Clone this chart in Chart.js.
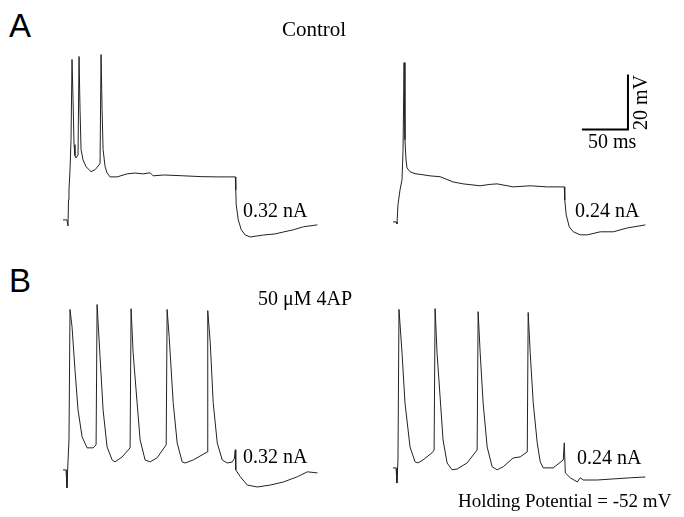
<!DOCTYPE html>
<html>
<head>
<meta charset="utf-8">
<script src="https://cdn.jsdelivr.net/npm/chart.js@4"></script>
<style>
  body { margin: 0; background: #fff; }
  #page { position: relative; width: 684px; height: 517px; overflow: hidden; background: #fff; }
  canvas { position: absolute; }
  .lbl { position: absolute; white-space: nowrap; line-height: 1; color: #000; }
  .panel { font-family: "Liberation Sans", Arial, sans-serif; font-size: 33px; }
  .serif { font-family: "Liberation Serif", "Times New Roman", serif; font-size: 20px; }
</style>
</head>
<body>
<div id="page">
  <canvas id="aLeft" width="258" height="248" style="left:63px;top:27px"></canvas>
  <canvas id="aRight" width="258" height="248" style="left:393px;top:29px"></canvas>
  <canvas id="bLeft" width="258" height="248" style="left:63px;top:277px"></canvas>
  <canvas id="bRight" width="258" height="248" style="left:393px;top:275px"></canvas>

  <div class="lbl panel" style="left:9px;top:9px">A</div>
  <div class="lbl panel" style="left:9px;top:264px">B</div>
  <div class="lbl serif" style="left:282px;top:19px;font-size:21px">Control</div>
  <div class="lbl serif" style="left:258px;top:288px">50 μM 4AP</div>
  <div class="lbl serif" style="left:243px;top:200px">0.32 nA</div>
  <div class="lbl serif" style="left:575px;top:200px">0.24 nA</div>
  <div class="lbl serif" style="left:243px;top:446px">0.32 nA</div>
  <div class="lbl serif" style="left:577px;top:447px">0.24 nA</div>
  <div class="lbl serif" style="left:588px;top:131px">50 ms</div>
  <div class="lbl serif" style="left:630px;top:130px;transform:rotate(-90deg);transform-origin:left top">20 mV</div>
  <div class="lbl serif" style="left:458px;top:491px;font-size:19px">Holding Potential = -52 mV</div>
</div>
<script>
// Recordings: time in ms, membrane potential in mV

// A, control, 0.32 nA
const aLeftTime = [0, 4.3, 5.4, 6.0, 6.5, 7.6, 8.7, 9.8, 10.9, 12.0, 13.0, 14.1, 16.3, 17.4, 18.5, 19.6, 21.7, 25.0, 30.4, 34.8, 40.2, 41.3, 42.4, 43.5, 45.7, 47.8, 51.1, 58.7, 69.6, 78, 87.0, 94.6, 97.8, 110, 130.4, 150, 167.4, 187.0, 187.5, 188.0, 190.2, 193.5, 197.8, 203.3, 217.4, 230, 239.1, 250, 260.9, 276.1];
const aLeftVm = [-52, -52, -54.2, -44.7, -41.1, -33.8, -22.9, 6.2, -8.4, -24.7, -28.7, -29.5, -28.4, 7.3, -12, -26.5, -30.2, -32.7, -34.5, -33.8, -31.6, 8, -12, -26.5, -32.7, -34.9, -36.4, -36.4, -35.3, -35.0, -35.3, -34.9, -36.0, -35.7, -36.0, -36.3, -36.4, -36.4, -41.1, -46.5, -52, -55.6, -57.5, -58.2, -57.5, -57.1, -56.4, -55.6, -54.5, -53.8];

// A, control, 0.24 nA
const aRightTime = [0, 3.3, 4.3, 5.4, 7.6, 9.8, 10.9, 12.0, 13.0, 14.1, 15.2, 18.5, 23.9, 32.6, 40.2, 51.1, 65.2, 76.1, 94.6, 105, 113.0, 130.4, 148.9, 167.4, 185.9, 186.4, 188.0, 191.3, 195.7, 203.3, 210.9, 225.0, 239.1, 254.3, 273.9];
const aRightVm = [-52, -52, -52.7, -45.8, -40.4, -36.7, -25.8, 5.8, -22.2, -29.5, -32.4, -33.8, -34.5, -34.9, -35.3, -35.6, -37.5, -38.2, -38.9, -38.4, -38.2, -39.3, -38.9, -39.3, -39.3, -44, -49.5, -53.8, -55.6, -56.7, -56.7, -55.6, -55.6, -54.2, -53.1];

// B, 50 uM 4AP, 0.32 nA
const bLeftTime = [0, 3.3, 4.3, 5.4, 6.5, 7.6, 9.8, 13.0, 16.3, 20.7, 26.1, 32.6, 35.9, 37.0, 40.2, 43.5, 47.8, 53.3, 56.5, 64.1, 72.8, 73.9, 76.1, 80.4, 83.7, 89.1, 94.6, 102.2, 112.0, 113.0, 115.2, 119.6, 123.9, 129.3, 132.6, 141.3, 156.5, 157.1, 159.8, 163.0, 167.4, 172.8, 178.3, 183.7, 185.9, 187.0, 187.5, 192.4, 200, 210.9, 225.0, 239.1, 254.3, 265.2, 276.1];
const bLeftVm = [-52, -52, -58.5, -49.1, -41.1, 6.2, 0, -15.6, -30.2, -40, -44, -44, -42.9, 8, -10.9, -30.2, -43.6, -48.4, -49.1, -47.3, -44, 6.5, -9.5, -27.6, -41.1, -48.4, -49.1, -47.6, -42.9, 6.2, -3.6, -27.6, -42.2, -49.1, -49.5, -48.4, -45.5, 5.8, -5.8, -27.6, -42.2, -48.4, -49.5, -49.1, -48, -44.7, -52, -54.5, -57.5, -58.2, -57.5, -56.4, -54.5, -52.7, -53.1];

// B, 50 uM 4AP, 0.24 nA
const bRightTime = [0, 3.3, 4.3, 5.4, 6.5, 9.8, 13.0, 18.5, 23.9, 27.2, 32.6, 42.4, 44.6, 45.7, 47.8, 51.1, 54.3, 58.7, 64.1, 69.6, 80.4, 91.3, 92.4, 94.6, 97.8, 102.2, 107.6, 113.0, 119.6, 130.4, 138.0, 145.7, 146.7, 148.9, 152.2, 156.5, 159.8, 163.0, 173.9, 184.8, 185.9, 187.0, 192.4, 200, 203.3, 206.5, 221.7, 239.1, 257.6, 273.9];
const bRightVm = [-52, -52, -57.5, -49.1, 5.5, -10.2, -28.4, -44.4, -49.8, -50.2, -49.1, -46.5, -45.5, 5.8, -10.2, -26.2, -41.8, -50.2, -52.7, -52.4, -50.2, -45.5, 4.7, -10.2, -28.4, -44.4, -51.6, -52.7, -51.6, -48.4, -48, -46.2, 4.4, -10.2, -28.4, -42.9, -49.8, -52, -52, -49.1, -42.9, -53.8, -55.6, -57.1, -55.6, -56.4, -56.4, -56, -55.6, -55.3];

// scale bar: 50 ms by 20 mV
const barTime = [205, 255, 255];
const barVm = [-18.5, -18.5, 1.5];

const toPoints = (xs, ys) => xs.map((x, i) => ({ x: x, y: ys[i] }));

const traceSet = (xs, ys) => ({
  data: toPoints(xs, ys),
  borderColor: "#222",
  borderWidth: 1,
  pointRadius: 0,
  tension: 0,
  fill: false,
  clip: false
});

const makeTrace = (id, sets) => {
  return new Chart(document.getElementById(id).getContext("2d"), {
    type: "line",
    data: { datasets: sets },
    options: {
      responsive: false,
      animation: false,
      devicePixelRatio: 1,
      layout: { padding: 0 },
      plugins: { legend: { display: false }, tooltip: { enabled: false } },
      scales: {
        x: { type: "linear", min: 0, max: 280, display: false },
        y: { type: "linear", min: -72, max: 18, display: false }
      }
    }
  });
};

makeTrace("aLeft", [traceSet(aLeftTime, aLeftVm)]);
const bar = traceSet(barTime, barVm);
bar.borderColor = "#000";
bar.borderWidth = 2;
makeTrace("aRight", [traceSet(aRightTime, aRightVm), bar]);
makeTrace("bLeft", [traceSet(bLeftTime, bLeftVm)]);
makeTrace("bRight", [traceSet(bRightTime, bRightVm)]);
</script>
</body>
</html>
